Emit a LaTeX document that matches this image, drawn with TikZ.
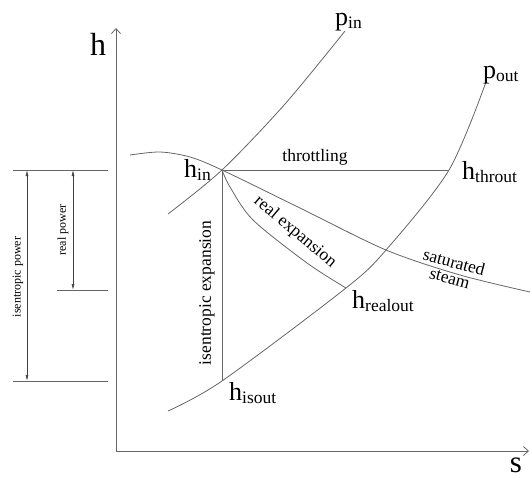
\documentclass[tikz,border=0pt]{standalone}
\usepackage{fontspec}
\setmainfont{Liberation Serif}
\usetikzlibrary{arrows.meta}
\newcommand{\hsub}[2]{{\fontsize{26}{26}\selectfont #1}\raisebox{-3.5pt}{\fontsize{17.5}{18}\selectfont #2}}
\begin{document}
\begin{tikzpicture}[x=1pt,y=-1pt,
  ln/.style={draw=black!60, line width=0.8pt},
  txt/.style={inner sep=0pt, font=\fontsize{17.5}{20}\selectfont},
  lab/.style={inner sep=0pt, anchor=base west},
  small/.style={inner sep=0pt, font=\fontsize{12}{14}\selectfont},
  dim/.style={draw=black!75, line width=0.7pt, {Latex[length=6pt,width=3pt]}-{Latex[length=6pt,width=3pt]}},
  ax/.style={draw=black!60, line width=0.8pt, -{Straight Barb[length=5pt,width=9pt]}}]
\useasboundingbox (0,0) rectangle (530,479);
% axes
\coordinate (O) at (116,451);
\coordinate (htip) at (116,28);
\coordinate (stip) at (529,451);
\draw[ax] (O) -- (htip);
\draw[ax] (O) -- (stip);
\node[inner sep=0pt, font=\fontsize{32}{32}\selectfont] (hlab) at (98,44) {h};
\node[inner sep=0pt, font=\fontsize{31}{31}\selectfont] (slab) at (516,465) {s};
% state points
\coordinate (in) at (222,170);
\coordinate (throut) at (449,170);
\coordinate (realout) at (346,288);
\coordinate (isout) at (222,381);
% isobars
\draw[ln] plot[smooth] coordinates {(168,214) (in) (285,104) (345,31)};
\draw[ln] plot[smooth] coordinates {(168,411) (isout) (realout) (386,250) (throut) (486,82)};
% saturated steam line
\draw[ln] plot[smooth] coordinates {(130,155) (160,152) (190,157) (in) (300,208) (386,250) (460,275) (530,292)};
% processes
\draw[ln] (in) -- (throut);
\draw[ln] (in) -- (isout);
\draw[ln] plot[smooth] coordinates {(in) (230,187) (253,220) (307,263) (realout)};
% labels
\node[lab] (lin) at (184,177) {\hsub{h}{in}};
\node[lab] (lthrout) at (462,179) {\hsub{h}{throut}};
\node[lab] (lrealout) at (352,308) {\hsub{h}{realout}};
\node[lab] (lisout) at (229,400) {\hsub{h}{isout}};
\node[lab] (lpin) at (335,25) {\hsub{p}{in}};
\node[lab] (lpout) at (483,78) {\hsub{p}{out}};
\node[txt] (thr) at (315,157) {throttling};
\node[txt, rotate=90] (isexp) at (207,293) {isentropic expansion};
\node[txt, rotate=-40] (realexp) at (295,232) {real expansion};
\node[txt, rotate=-15, align=center] (sat) at (452,270) {saturated\\[-4pt]steam};
% power dimensions
\coordinate (t1a) at (13,170);  \coordinate (t1b) at (108,170);
\coordinate (t2a) at (57,290);  \coordinate (t2b) at (108,290);
\coordinate (t3a) at (13,381);  \coordinate (t3b) at (108,381);
\draw[ln] (t1a) -- (t1b);
\draw[ln] (t2a) -- (t2b);
\draw[ln] (t3a) -- (t3b);
\coordinate (a1) at (27,170); \coordinate (a2) at (27,381);
\coordinate (b1) at (73,170); \coordinate (b2) at (73,290);
\draw[dim] (a1) -- (a2);
\draw[dim] (b1) -- (b2);
\node[small, rotate=90] (isp) at (18,277) {isentropic power};
\node[small, rotate=90] (rp) at (63,230) {real power};
\end{tikzpicture}
\end{document}
